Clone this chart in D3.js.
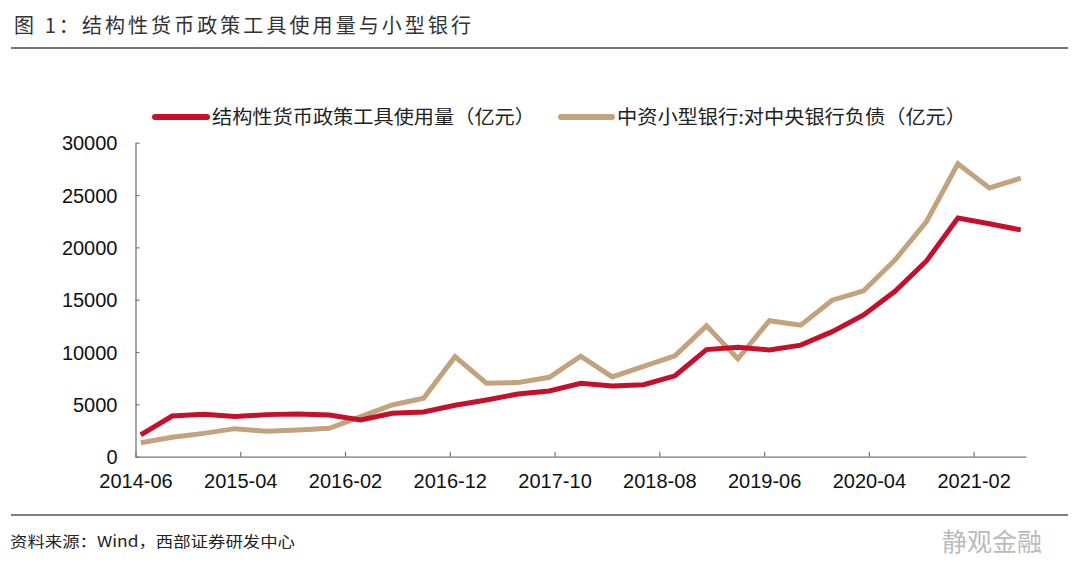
<!DOCTYPE html>
<html><head><meta charset="utf-8">
<script src="https://cdn.jsdelivr.net/npm/d3@7"></script>
<style>
html,body{margin:0;padding:0;background:#fff;}
svg{display:block;}
</style></head>
<body>
<svg id="c" width="1080" height="585"></svg>
<script>
// Quarterly observations, 2014-06 .. 2021-06
const quarters = ["2014-06","2014-09","2014-12","2015-03","2015-06","2015-09","2015-12","2016-03","2016-06","2016-09","2016-12","2017-03","2017-06","2017-09","2017-12","2018-03","2018-06","2018-09","2018-12","2019-03","2019-06","2019-09","2019-12","2020-03","2020-06","2020-09","2020-12","2021-03","2021-06"];
const toolUsage = [2080,3890,4050,3830,4020,4080,3990,3510,4150,4270,4910,5420,5990,6280,7010,6760,6880,7730,10230,10460,10200,10660,11950,13550,15800,18700,22800,22250,21670];
const smallBankDebt = [1340,1850,2230,2680,2430,2550,2710,3830,4940,5580,9560,7010,7080,7590,9600,7620,8640,9640,12500,9350,12990,12560,14950,15850,18800,22470,27980,25680,26610];
const xTickLabels = ["2014-06","2015-04","2016-02","2016-12","2017-10","2018-08","2019-06","2020-04","2021-02"];
const yTicks = [0,5000,10000,15000,20000,25000,30000];
const seriesNames = ["结构性货币政策工具使用量（亿元）","中资小型银行:对中央银行负债（亿元）"];
const titleText = "图 1：结构性货币政策工具使用量与小型银行";
const sourceText = "资料来源：Wind，西部证券研发中心";

const svg = d3.select("#c");
const cjk = "'Noto Sans CJK SC','Noto Sans',sans-serif";
const num = "'Liberation Sans',Arial,sans-serif";

// month index helper
const mIdx = s => { const [y,m] = s.split("-").map(Number); return (y-2014)*12 + (m-6); };

const x = d3.scaleLinear().domain([0, 85]).range([135.5, 1026]);
const y = d3.scaleLinear().domain([0, 30000]).range([456.7, 142.7]);

// Title
svg.append("text").attr("x",14).attr("y",33).attr("font-family",cjk).attr("font-size",20)
  .attr("fill","#333").attr("textLength",457).text(titleText);
svg.append("line").attr("x1",11).attr("x2",1068).attr("y1",48).attr("y2",48)
  .attr("stroke","#444").attr("stroke-width",1.5);

// Axes
const gx = svg.append("g").attr("transform",`translate(0,${y(0)})`)
  .call(d3.axisBottom(x).tickValues(xTickLabels.map(mIdx)).tickFormat((d,i)=>xTickLabels[i]).tickSize(-5).tickSizeOuter(0));
gx.select(".domain").attr("stroke","#777").attr("stroke-width",1.3);
gx.selectAll(".tick line").attr("stroke","#777").attr("stroke-width",1.2);
gx.selectAll(".tick text").attr("font-family",num).attr("font-size",20).attr("fill","#111").attr("dy",0).attr("y",31);

const gy = svg.append("g").attr("transform",`translate(${x(0)},0)`)
  .call(d3.axisLeft(y).tickValues(yTicks).tickFormat(d3.format("d")).tickSize(-4).tickSizeOuter(0));
gy.select(".domain").attr("stroke","#777").attr("stroke-width",1.3);
gy.selectAll(".tick line").attr("stroke","#777").attr("stroke-width",1.2);
gy.selectAll(".tick text").attr("font-family",num).attr("font-size",20).attr("fill","#111").attr("x",-18).attr("dy","0.35em");

// Lines
const colors = ["#C3A27E","#C4102A"];
const line = d3.line().x((d,i)=>x(mIdx(quarters[i])+0.5)).y(d=>y(d));
svg.append("path").datum(smallBankDebt).attr("d",line).attr("fill","none")
  .attr("stroke",colors[0]).attr("stroke-width",5).attr("stroke-linejoin","miter");
svg.append("path").datum(toolUsage).attr("d",line).attr("fill","none")
  .attr("stroke",colors[1]).attr("stroke-width",5).attr("stroke-linejoin","miter");

// Legend
const leg = [
  {c:colors[1], x1:155, x2:207, tx:212, tl:323, t:seriesNames[0]},
  {c:colors[0], x1:561, x2:612, tx:617, tl:349, t:seriesNames[1]}
];
leg.forEach(l=>{
  svg.append("line").attr("x1",l.x1).attr("x2",l.x2).attr("y1",117).attr("y2",117)
    .attr("stroke",l.c).attr("stroke-width",6).attr("stroke-linecap","round");
  svg.append("text").attr("x",l.tx).attr("y",124).attr("font-family",cjk).attr("font-size",19)
    .attr("fill","#222").attr("textLength",l.tl).attr("lengthAdjust","spacingAndGlyphs").text(l.t);
});

// Footer
svg.append("line").attr("x1",11).attr("x2",1068).attr("y1",515).attr("y2",515)
  .attr("stroke","#555").attr("stroke-width",1.5);
svg.append("text").attr("x",10).attr("y",547).attr("font-family",cjk).attr("font-size",15)
  .attr("fill","#222").attr("textLength",285).attr("lengthAdjust","spacingAndGlyphs").text(sourceText);
svg.append("text").attr("x",942).attr("y",551).attr("font-family",cjk).attr("font-size",25)
  .attr("fill","#bbb").text("静观金融");
</script>
</body></html>
